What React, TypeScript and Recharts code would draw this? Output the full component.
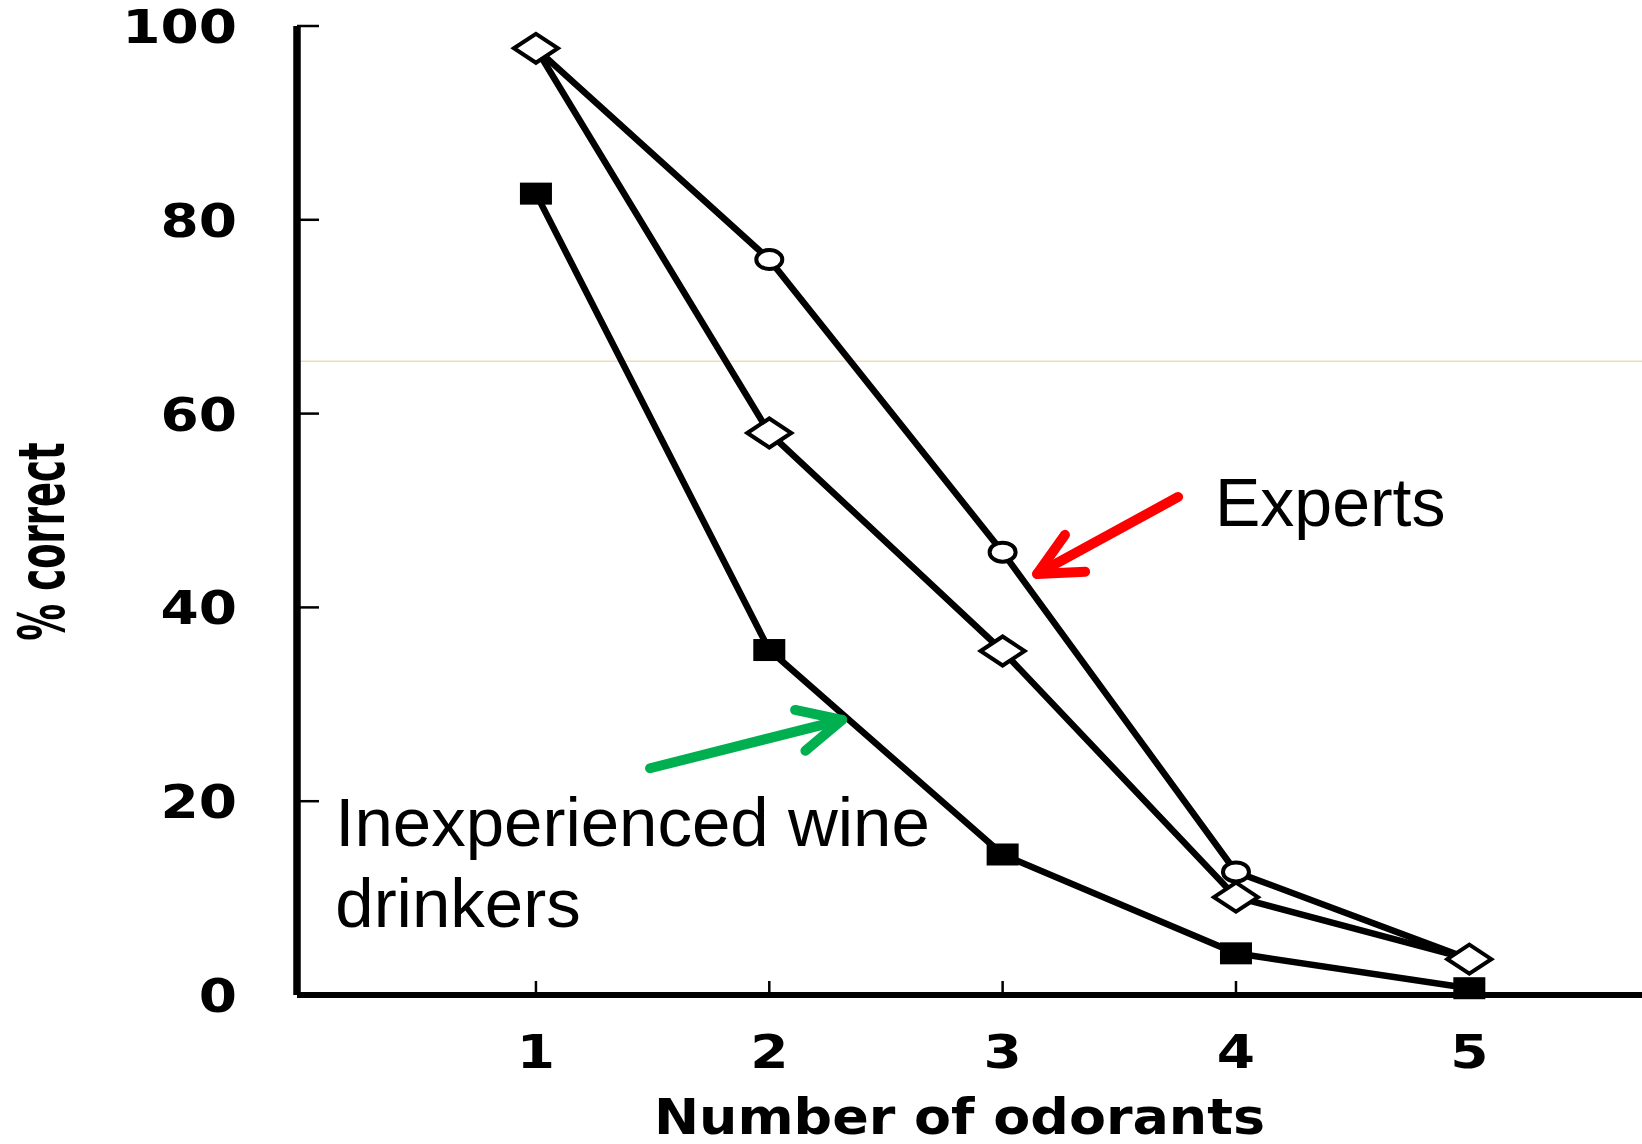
import { LineChart, Line, XAxis, YAxis, ReferenceLine, ReferenceDot, Label } from "recharts";

// values
const odorants = [1, 2, 3, 4, 5];
const expertsCircle = [97.7, 75.9, 45.7, 12.7, 3.7];
const diamondGroup = [97.7, 58.0, 35.5, 10.1, 3.7];
const inexperienced = [82.7, 35.6, 14.5, 4.3, 0.7];
const xTicks = [1, 2, 3, 4, 5];
const yTicks = [0, 20, 40, 60, 80, 100];

const data = odorants.map((n, i) => ({
  n,
  circle: expertsCircle[i],
  diamond: diamondGroup[i],
  square: inexperienced[i],
}));

const AXIS_FONT = "DejaVu Sans";
const NOTE_FONT = "'Liberation Sans', Arial, sans-serif";

function YTick({ x, y, payload }: any) {
  return (
    <text
      transform={`translate(${x},${y}) scale(1.17,1)`}
      textAnchor="end"
      dy={17}
      fontFamily={AXIS_FONT}
      fontWeight="bold"
      fontSize={47}
      fill="#000"
    >
      {payload.value}
    </text>
  );
}

function XTick({ x, y, payload }: any) {
  return (
    <text
      transform={`translate(${x},${y}) scale(1.17,1)`}
      textAnchor="middle"
      fontFamily={AXIS_FONT}
      fontWeight="bold"
      fontSize={47}
      fill="#000"
    >
      {payload.value}
    </text>
  );
}

function XTitle({ viewBox }: any) {
  const cx = viewBox.x + viewBox.width / 2 - 10;
  const by = viewBox.y + 139;
  return (
    <text
      transform={`translate(${cx},${by}) scale(1.1,1)`}
      textAnchor="middle"
      fontFamily={AXIS_FONT}
      fontWeight="bold"
      fontSize={49}
      fill="#000"
    >
      Number of odorants
    </text>
  );
}

function YTitle({ viewBox }: any) {
  const cx = viewBox.x + 41;
  const cy = viewBox.y + viewBox.height / 2 + 31;
  return (
    <text
      transform={`translate(${cx},${cy}) rotate(-90) scale(1,1.75)`}
      textAnchor="middle"
      dy={13}
      fontFamily={AXIS_FONT}
      fontWeight="bold"
      fontSize={37}
      fill="#000"
    >
      % correct
    </text>
  );
}

function CircleDot({ cx, cy }: any) {
  return <ellipse cx={cx} cy={cy} rx={13} ry={9.5} fill="#fff" stroke="#000" strokeWidth={4} />;
}

function DiamondDot({ cx, cy }: any) {
  const pts = `${cx - 22},${cy} ${cx},${cy - 14.5} ${cx + 22},${cy} ${cx},${cy + 14.5}`;
  return <polygon points={pts} fill="#fff" stroke="#000" strokeWidth={4} />;
}

function SquareDot({ cx, cy }: any) {
  return <rect x={cx - 16} y={cy - 11} width={32} height={22} fill="#000" />;
}

function arrow(color: string) {
  return ({ x1, y1, x2, y2 }: any) => {
    const a = Math.atan2(y1 - y2, x1 - x2);
    const len = 48;
    const spread = (26 * Math.PI) / 180;
    const w1x = x2 + len * Math.cos(a + spread);
    const w1y = y2 + len * Math.sin(a + spread);
    const w2x = x2 + len * Math.cos(a - spread);
    const w2y = y2 + len * Math.sin(a - spread);
    return (
      <g stroke={color} strokeWidth={10} strokeLinecap="round" strokeLinejoin="round" fill="none">
        <line x1={x1} y1={y1} x2={x2} y2={y2} />
        <polyline points={`${w1x},${w1y} ${x2},${y2} ${w2x},${w2y}`} />
      </g>
    );
  };
}

function ExpertsText({ cx, cy }: any) {
  return (
    <text x={cx} y={cy} fontFamily={NOTE_FONT} fontSize={68} fill="#000">
      Experts
    </text>
  );
}

function NoviceText({ cx, cy }: any) {
  return (
    <text x={cx} y={cy} fontFamily={NOTE_FONT} fontSize={69} fill="#000">
      <tspan x={cx}>Inexperienced wine</tspan>
      <tspan x={cx} dy={81}>drinkers</tspan>
    </text>
  );
}

export default function App() {
  return (
    <div style={{ position: "absolute", left: 0, top: 0, background: "#fff" }}>
      <LineChart
        width={1642}
        height={1144}
        data={data}
        margin={{ top: 26, right: 0, bottom: 0, left: 0 }}
      >
        <XAxis
          dataKey="n"
          type="number"
          domain={[-0.024, 5.74]}
          allowDataOverflow
          ticks={xTicks}
          interval={0}
          height={149}
          axisLine={{ stroke: "#000", strokeWidth: 6 }}
          tickLine={{ stroke: "#000", strokeWidth: 2.5 }}
          tickSize={-14}
          tickMargin={87}
          tick={XTick}
        >
          <Label content={XTitle} />
        </XAxis>
        <YAxis
          type="number"
          domain={[0, 100]}
          ticks={yTicks}
          interval={0}
          width={297}
          axisLine={{ stroke: "#000", strokeWidth: 7.5 }}
          tickLine={{ stroke: "#000", strokeWidth: 2.5 }}
          tickSize={-22}
          tickMargin={82}
          tick={YTick}
        >
          <Label content={YTitle} />
        </YAxis>

        <ReferenceLine y={65.4} stroke="#efdcb2" strokeWidth={1.5} />

        <Line
          dataKey="circle"
          type="linear"
          stroke="#000"
          strokeWidth={6.5}
          dot={CircleDot}
          activeDot={false}
          isAnimationActive={false}
        />
        <Line
          dataKey="diamond"
          type="linear"
          stroke="#000"
          strokeWidth={6.5}
          dot={DiamondDot}
          activeDot={false}
          isAnimationActive={false}
        />
        <Line
          dataKey="square"
          type="linear"
          stroke="#000"
          strokeWidth={6.5}
          dot={SquareDot}
          activeDot={false}
          isAnimationActive={false}
        />

        <ReferenceLine
          segment={[
            { x: 3.752, y: 51.4 },
            { x: 3.148, y: 43.45 },
          ]}
          shape={arrow("#ff0000")}
        />
        <ReferenceLine
          segment={[
            { x: 1.489, y: 23.4 },
            { x: 2.312, y: 28.4 },
          ]}
          shape={arrow("#00b050")}
        />
        <ReferenceDot x={3.91} y={48.4} r={0} shape={ExpertsText} />
        <ReferenceDot x={0.14} y={15.4} r={0} shape={NoviceText} />
      </LineChart>
    </div>
  );
}
